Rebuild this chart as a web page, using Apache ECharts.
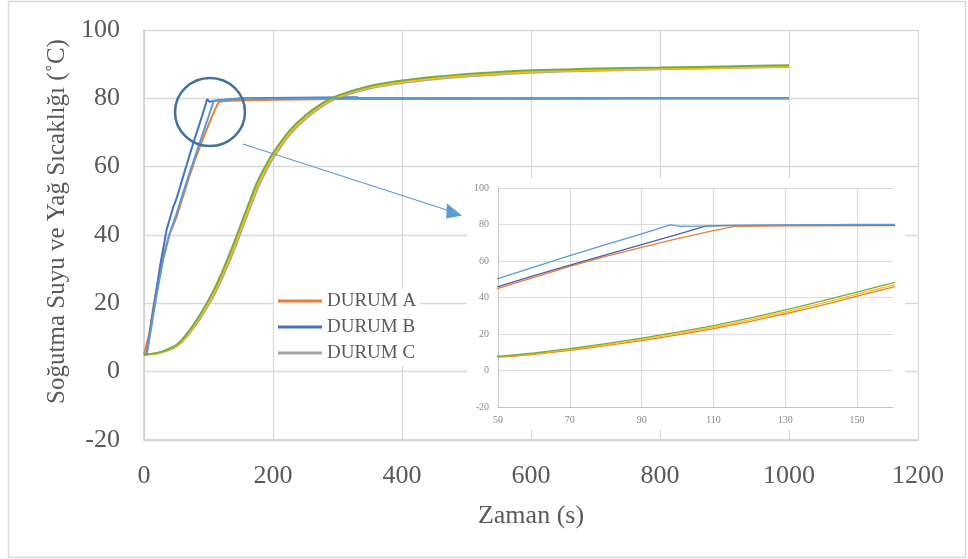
<!DOCTYPE html>
<html>
<head>
<meta charset="utf-8">
<script src="https://cdn.jsdelivr.net/npm/echarts@6/dist/echarts.min.js"></script>
<style>
html,body{margin:0;padding:0;background:#fff;}
#chart{width:968px;height:559px;}
</style>
</head>
<body>
<div id="chart"></div>
<script>
// ---- data ----
const xTicks = [0, 200, 400, 600, 800, 1000, 1200];
const yTicks = [-20, 0, 20, 40, 60, 80, 100];
const insetXTicks = [50, 70, 90, 110, 130, 150];
const insetYTicks = [-20, 0, 20, 40, 60, 80, 100];
const legendNames = ['DURUM A', 'DURUM B', 'DURUM C'];

// coolant temperature, case A (orange, slowest)
const coolantTimeA = [0, 3, 8, 15, 25, 35, 40, 50, 60, 70, 80, 90, 100, 110, 116, 130, 200, 300, 640, 800, 1000];
const coolantA     = [5, 5, 11, 19.5, 30, 37.5, 40.5, 45, 51, 57, 62.5, 67.5, 72.2, 76.7, 79, 79.3, 79.6, 79.8, 79.9, 80, 80];
// coolant temperature, case B (dark blue, fastest)
const coolantTimeB = [0, 4, 10, 15, 25, 35, 45, 50, 60, 70, 80, 90, 98, 101, 110, 150, 330, 335, 1000];
const coolantB     = [5, 5, 12.5, 18.5, 31, 41.5, 48, 50.4, 56.7, 63, 69, 74.8, 79.8, 79, 79.3, 80, 80.3, 80, 80];
// coolant temperature, case C (light blue)
const coolantTimeC = [0, 4, 10, 20, 30, 40, 50, 60, 70, 80, 90, 100, 108, 115, 150, 300, 1000];
const coolantC     = [5, 5, 11.5, 23, 33, 40.5, 46, 52, 57.8, 63.4, 69, 74.6, 79.2, 79.5, 79.8, 80, 80];

// oil temperature
const oilTime = [0, 20, 30, 40, 50, 60, 70, 80, 90, 100, 110, 120, 130, 140, 150, 160, 175, 190, 200, 225, 250, 275, 300, 350, 400, 450, 500, 550, 600, 700, 800, 900, 1000];
const oilA = [5, 5.5, 6.0, 6.8, 7.8, 9.6, 12.0, 14.7, 17.7, 21.0, 24.6, 28.7, 33.2, 38.0, 43.0, 48.0, 55.3, 60.8, 64.0, 70.4, 75.0, 78.4, 80.8, 83.6, 85.2, 86.3, 87.1, 87.7, 88.2, 88.7, 89.0, 89.35, 89.7];
const oilB = [5, 5.4, 5.9, 6.6, 7.5, 9.2, 11.5, 14.1, 17.0, 20.2, 23.7, 27.7, 32.1, 36.8, 41.8, 46.8, 54.2, 59.9, 63.2, 69.7, 74.4, 77.9, 80.4, 83.2, 84.8, 85.9, 86.7, 87.3, 87.8, 88.3, 88.6, 88.95, 89.3];
const oilC = [5, 5.3, 5.8, 6.4, 7.3, 8.9, 11.1, 13.6, 16.4, 19.5, 22.9, 26.8, 31.1, 35.7, 40.7, 45.7, 53.1, 59.0, 62.4, 69.1, 73.9, 77.5, 80.1, 82.9, 84.5, 85.6, 86.4, 87.0, 87.5, 88.1, 88.5, 88.85, 89.2];

const zip = (t, v) => t.map((x, i) => [x, v[i]]);

const FONT = '"Liberation Serif", "Times New Roman", serif';
const TXT = '#595959';
const GRID = '#d9d9d9';

const chart = echarts.init(document.getElementById('chart'), null, {renderer: 'canvas'});

function mainLine(name, t, v, color, smooth, z) {
  return {
    name: name, type: 'line', xAxisIndex: 0, yAxisIndex: 0,
    data: zip(t, v), showSymbol: false, symbol: 'none',
    smooth: smooth ? 0.2 : false,
    lineStyle: {color: color, width: 2}, itemStyle: {color: color},
    z: z, animation: false
  };
}
function insetLine(t, v, color, smooth) {
  return {
    name: '_inset', type: 'line', xAxisIndex: 1, yAxisIndex: 1,
    data: zip(t, v), showSymbol: false, symbol: 'none',
    smooth: smooth ? 0.2 : false,
    lineStyle: {color: color, width: 1.3}, itemStyle: {color: color},
    clip: true, z: 6, animation: false
  };
}

const plain = v => String(v);

const option = {
  backgroundColor: '#fff',
  animation: false,
  grid: [
    {left: 144, top: 30, right: 50, bottom: 119},
    {left: 498, top: 188, right: 75, bottom: 152, z: 5}
  ],
  legend: {
    data: legendNames,
    orient: 'vertical',
    left: 274, top: 288,
    padding: [3, 4, 3, 4],
    backgroundColor: '#fff',
    icon: 'rect', itemWidth: 44, itemHeight: 3, itemGap: 6,
    textStyle: {fontFamily: FONT, fontSize: 19, color: TXT, lineHeight: 20},
    selectedMode: false
  },
  xAxis: [
    {
      type: 'value', gridIndex: 0, min: 0, max: 1200, interval: 200,
      name: 'Zaman (s)', nameLocation: 'middle', nameGap: 63,
      nameTextStyle: {fontFamily: FONT, fontSize: 26, color: TXT},
      axisLine: {show: true, onZero: false, lineStyle: {color: '#cfcfcf', width: 1.5}},
      axisTick: {show: false},
      axisLabel: {fontFamily: FONT, fontSize: 26, color: TXT, margin: 23, formatter: plain},
      splitLine: {show: true, lineStyle: {color: GRID, width: 1.3}}
    },
    {
      type: 'value', gridIndex: 1, min: 50, max: 160, z: 5,
      axisLine: {show: true, onZero: false, lineStyle: {color: '#c4c4c4', width: 1}},
      axisTick: {show: false, customValues: insetXTicks},
      axisLabel: {fontFamily: FONT, fontSize: 10, color: '#8a8a8a', margin: 8, customValues: insetXTicks, formatter: plain},
      splitLine: {show: true, lineStyle: {color: '#dcdcdc', width: 1}}
    }
  ],
  yAxis: [
    {
      type: 'value', gridIndex: 0, min: -20, max: 100, interval: 20,
      name: 'Soğutma Suyu ve Yağ Sıcaklığı (˚C)', nameLocation: 'middle', nameGap: 61,
      nameTextStyle: {fontFamily: FONT, fontSize: 25, color: TXT, padding: [0, 0, 0, 27]},
      axisLine: {show: true, onZero: false, lineStyle: {color: '#cfcfcf', width: 1.5}},
      axisTick: {show: false},
      axisLabel: {fontFamily: FONT, fontSize: 26, color: TXT, margin: 24, formatter: plain},
      splitLine: {show: true, lineStyle: {color: GRID, width: 1.3}}
    },
    {
      type: 'value', gridIndex: 1, min: -20, max: 100, interval: 20, z: 5,
      axisLine: {show: true, onZero: false, lineStyle: {color: '#c4c4c4', width: 1}},
      axisTick: {show: false},
      axisLabel: {fontFamily: FONT, fontSize: 10, color: '#8a8a8a', margin: 9, formatter: plain},
      splitLine: {show: true, lineStyle: {color: '#dcdcdc', width: 1}}
    }
  ],
  graphic: [
    {type: 'rect', z: 0, silent: true, shape: {x: 8.5, y: 1.5, width: 957, height: 556},
     style: {fill: null, stroke: '#d9d9d9', lineWidth: 1.5}},
    {type: 'rect', z: 1, silent: true, shape: {x: 467, y: 178, width: 438, height: 252},
     style: {fill: '#fff', stroke: null}},
    {type: 'ellipse', z: 50, silent: true, shape: {cx: 210, cy: 112, rx: 35, ry: 34},
     style: {fill: null, stroke: '#41719C', lineWidth: 2.5}},
    {type: 'line', z: 50, silent: true, shape: {x1: 243, y1: 144, x2: 450, y2: 211},
     style: {stroke: '#5B9BD5', lineWidth: 1.2}},
    {type: 'polygon', z: 50, silent: true, shape: {points: [[447, 203.5], [446, 218.5], [462, 215.5]]},
     style: {fill: '#5B9BD5'}}
  ],
  series: [
    mainLine('DURUM A', coolantTimeA, coolantA, '#ED7D31', false, 2),
    mainLine('DURUM B', coolantTimeB, coolantB, '#4472C4', false, 2),
    mainLine('DURUM C', oilTime, oilC, '#A5A5A5', true, 2),
    mainLine('Yağ B', oilTime, oilB, '#FFC000', true, 2),
    mainLine('Soğutma C', coolantTimeC, coolantC, '#5B9BD5', false, 2),
    mainLine('Yağ A', oilTime, oilA, '#70AD47', true, 2),
    insetLine(oilTime, oilC, '#ED7D31', true),
    insetLine(oilTime, oilB, '#FFC000', true),
    insetLine(oilTime, oilA, '#70AD47', true),
    insetLine(coolantTimeA, coolantA, '#ED7D31', false),
    insetLine(coolantTimeC, coolantC, '#4F5FB0', false),
    insetLine(coolantTimeB, coolantB, '#5B9BD5', false)
  ]
};
chart.setOption(option);
</script>
</body>
</html>
